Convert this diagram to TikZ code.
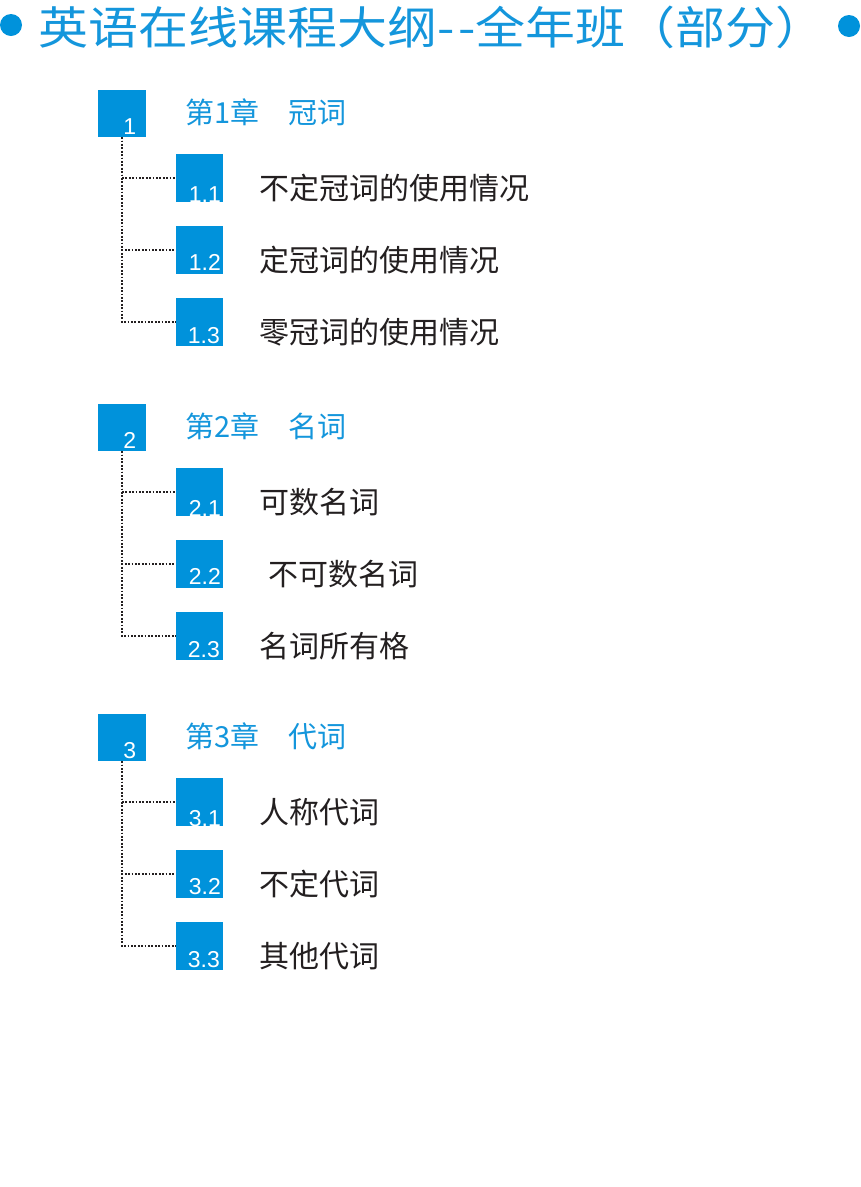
\documentclass[tikz,border=0pt]{standalone}
\usepackage{fontspec}
\setmainfont{Liberation Sans}
\newfontfamily\cjk{Noto Sans CJK SC}
\usetikzlibrary{calc}
\definecolor{mblue}{RGB}{0,146,219}
\definecolor{tblue}{RGB}{20,150,220}
\definecolor{ink}{RGB}{35,31,32}
\newcommand\mygroup[7]{%
  % #1 number, #2 top y, #3 chapter title, #4 #5 #6 sub texts, #7 x of 2nd sub text
  \node[boxsq] (c#1) at (122,#2+23.5) {};
  \begin{scope}
    \clip (c#1.south west) rectangle (c#1.north east);
    \node[num, anchor=base west] (n#1) at ($(c#1.south west)+(25,-3)$) {#1};
  \end{scope}
  \node[chaptitle] (ct#1) at (185,#2+22) {#3};
  \node[boxsq] (s#1a) at (199.5,#2+88) {};
  \node[boxsq] (s#1b) at (199.5,#2+160) {};
  \node[boxsq] (s#1c) at (199.5,#2+232) {};
  \begin{scope}
    \clip (s#1a.south west) rectangle (s#1a.north east);
    \node[num, anchor=base west] (na#1) at ($(s#1a.south west)+(13,1)$) {#1.1};
  \end{scope}
  \begin{scope}
    \clip (s#1b.south west) rectangle (s#1b.north east);
    \node[num, anchor=base west] (nb#1) at ($(s#1b.south west)+(13,-3)$) {#1.2};
  \end{scope}
  \begin{scope}
    \clip (s#1c.south west) rectangle (s#1c.north east);
    \node[num, anchor=base west] (nc#1) at ($(s#1c.south west)+(12,-2)$) {#1.3};
  \end{scope}
  \node[subtext] (ta#1) at (259,#2+98) {#4};
  \node[subtext] (tb#1) at (#7,#2+170) {#5};
  \node[subtext] (tc#1) at (259,#2+242) {#6};
  \draw[conn] (c#1.south) |- (s#1a.west);
  \draw[conn] (c#1.south) |- (s#1b.west);
  \draw[conn] (c#1.south) |- (s#1c.west);
}
\begin{document}
\begin{tikzpicture}[x=1pt,y=-1pt,
  boxsq/.style={fill=mblue, minimum size=47.5pt, inner sep=0pt, outer sep=0pt},
  num/.style={text=white, font=\fontsize{23}{23}\selectfont, inner sep=0pt},
  chaptitle/.style={text=tblue, font=\cjk\fontsize{29}{29}\selectfont, anchor=west, inner sep=0pt},
  subtext/.style={text=ink, font=\cjk\fontsize{30}{30}\selectfont, anchor=west, inner sep=0pt},
  conn/.style={draw=ink, line width=2pt, dash pattern=on 1.8pt off 1.6pt},
  bullet/.style={circle, fill=mblue, minimum size=22pt, inner sep=0pt}]
\useasboundingbox[fill=white] (0,0) rectangle (861,1187);
\node[bullet] (b1) at (11,25) {};
\node[bullet] (b2) at (849,26) {};
\node[text=tblue, font=\cjk\fontsize{45}{45}\selectfont, anchor=west, inner sep=0pt] (title) at (38,27) {\scalebox{1.11}[1]{英语在线课程大纲-\kern3pt-全年班（部分）}};
\mygroup{1}{90}{第1章\hspace{1em}冠词}{不定冠词的使用情况}{定冠词的使用情况}{零冠词的使用情况}{259}
\mygroup{2}{404}{第2章\hspace{1em}名词}{可数名词}{不可数名词}{名词所有格}{268}
\mygroup{3}{714}{第3章\hspace{1em}代词}{人称代词}{不定代词}{其他代词}{259}
\end{tikzpicture}
\end{document}
